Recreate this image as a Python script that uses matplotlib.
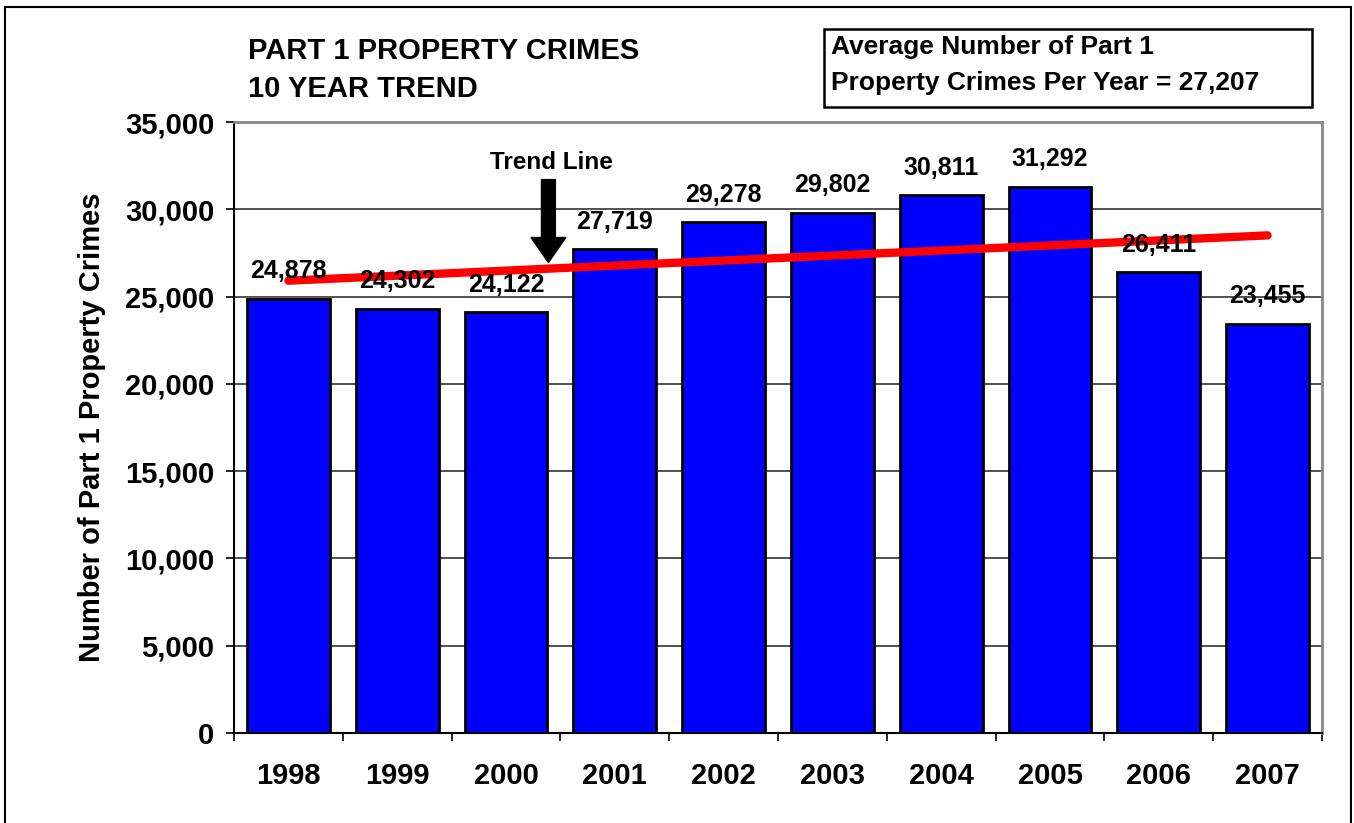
import numpy as np
import matplotlib.pyplot as plt
from matplotlib.patches import Rectangle

# Part 1 property crimes, 1998-2007
years = ['1998', '1999', '2000', '2001', '2002', '2003', '2004', '2005', '2006', '2007']
crimes = [24878, 24302, 24122, 27719, 29278, 29802, 30811, 31292, 26411, 23455]
y_ticks = [0, 5000, 10000, 15000, 20000, 25000, 30000, 35000]

plt.rcParams['font.family'] = ['Liberation Sans', 'DejaVu Sans']
plt.rcParams['font.weight'] = 'bold'

W, H = 1354, 823
fig = plt.figure(figsize=(W / 100, H / 100), dpi=100)
ax = fig.add_axes([234 / W, 1 - 733 / H, (1322 - 234) / W, (733 - 122) / H])

x = np.arange(len(years))
ax.bar(x, crimes, width=0.76, color='#0000FF', edgecolor='black', linewidth=2, zorder=2)

# linear trend line through the bars
k, b = np.polyfit(x, crimes, 1)
ax.plot([x[0], x[-1]], [k * x[0] + b, k * x[-1] + b], color='#FF0000', lw=6,
        solid_capstyle='round', zorder=4)

for xi, v in zip(x, crimes):
    ax.annotate(f'{v:,}', (xi, v), xytext=(0, 11), textcoords='offset points',
                ha='center', va='bottom', fontsize=18, fontweight='bold', zorder=5)

ax.set_xlim(-0.5, len(years) - 0.5)
ax.set_ylim(0, 35000)
ax.set_yticks(y_ticks)
ax.set_yticklabels([f'{t:,}' for t in y_ticks], fontsize=21, fontweight='bold')
ax.set_xticks(x)
ax.set_xticklabels(years, fontsize=21, fontweight='bold')
ax.set_xticks(np.arange(len(years) + 1) - 0.5, minor=True)
ax.tick_params(axis='x', which='major', length=0, pad=21)
ax.tick_params(axis='x', which='minor', length=6, width=1.2, direction='out')
ax.tick_params(axis='y', length=6, width=1.2, direction='out', pad=8)

ax.yaxis.grid(True, color='#333333', lw=1.2, zorder=0)
ax.set_axisbelow(True)
for s in ['top', 'right']:
    ax.spines[s].set_color('#888888')
    ax.spines[s].set_linewidth(2)
ax.spines['left'].set_linewidth(1.5)
ax.spines['bottom'].set_linewidth(1.5)

# "Trend Line" callout
ax.annotate('', xy=(2.39, 26950), xytext=(2.39, 31700),
            arrowprops=dict(facecolor='black', edgecolor='black', width=10,
                            headwidth=25, headlength=18))
ax.text(2.42, 32700, 'Trend Line', ha='center', va='center', fontsize=17.5, fontweight='bold')

# titles and side text
fig.text(248 / W, 1 - 51 / H, 'PART 1 PROPERTY CRIMES', fontsize=21, fontweight='bold', va='center')
fig.text(248 / W, 1 - 89 / H, '10 YEAR TREND', fontsize=21, fontweight='bold', va='center')
fig.text(92 / W, 1 - 427 / H, 'Number of Part 1 Property Crimes', rotation=90,
         fontsize=21, fontweight='bold', ha='center', va='center')

fig.add_artist(Rectangle((824 / W, 1 - 107 / H), (1312 - 824) / W, (107 - 29) / H,
                         transform=fig.transFigure, fill=False, edgecolor='black', lw=1.8))
fig.text(831 / W, 1 - 47 / H, 'Average Number of Part 1', fontsize=19, fontweight='bold', va='center')
fig.text(831 / W, 1 - 83 / H, 'Property Crimes Per Year = 27,207', fontsize=19, fontweight='bold', va='center')

# outer frame
fig.add_artist(Rectangle((5 / W, -0.05), (1351 - 5) / W, 1.05 - 7 / H,
                         transform=fig.transFigure, fill=False, edgecolor='black', lw=1.5))

fig.savefig('out.png', dpi=100)
